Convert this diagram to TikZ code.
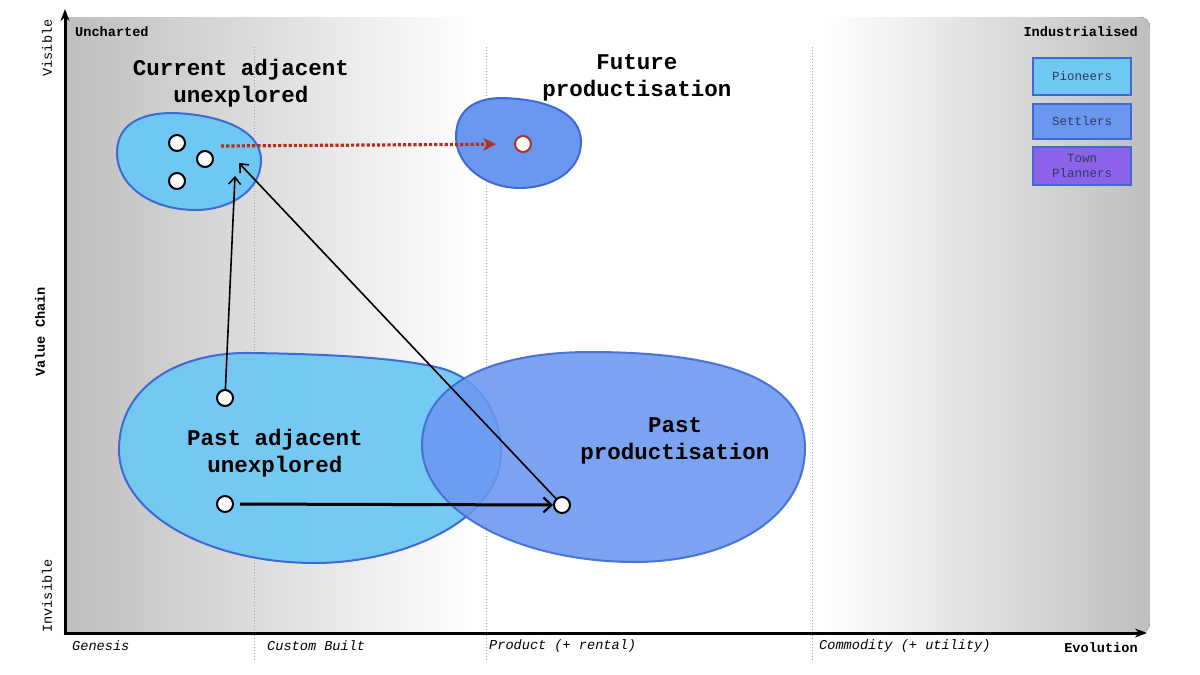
\documentclass[tikz,border=0pt]{standalone}
\usepackage{fontspec}
\setmainfont{Liberation Mono}
\usetikzlibrary{arrows.meta}
\definecolor{pion}{HTML}{6FC8F3}
\definecolor{sett}{HTML}{6B97F0}
\definecolor{town}{HTML}{8D62EA}
\definecolor{edgeblue}{HTML}{3F6AD4}
\definecolor{redd}{HTML}{B3301F}
\definecolor{bggray}{HTML}{BEBEBE}
\definecolor{legtext}{HTML}{2B3D5E}
\begin{document}
\begin{tikzpicture}[x=1pt,y=-1pt,
  small/.style={font=\fontsize{13.6}{16}\selectfont, inner sep=0pt},
  big/.style={font=\fontsize{22.5}{27}\selectfont\bfseries, align=center, inner sep=0pt},
  dot/.style={circle, draw=black, fill=white, line width=2pt, minimum size=16pt, inner sep=0pt},
  blob/.style={draw=edgeblue, line width=2pt},
  legbox/.style={draw=edgeblue, line width=2pt, minimum width=98pt, text=legtext, align=center,
     font=\fontsize{12.5}{15}\selectfont},
  conn/.style={line width=1.6pt, -{Straight Barb[length=7pt,width=12pt,line width=1.6pt]}},
  stagesep/.style={gray!70, dotted, line width=1pt}
]
\useasboundingbox (0,0) rectangle (1200,675);
% background panel
\begin{scope}
\clip (65,633) -- (65,17) -- (1140,17) arc[start angle=-90, end angle=0, radius=10]
  -- (1150,623) arc[start angle=0, end angle=90, radius=10] -- cycle;
\fill[left color=bggray, right color=white] (64,0) rectangle (475,675);
\fill[white] (474,0) rectangle (826,675);
\fill[left color=white, right color=bggray] (825,0) rectangle (1151,675);
\end{scope}
% stage separators
\draw[stagesep] (254,47) -- (254,662);
\draw[stagesep] (486,47) -- (486,662);
\draw[stagesep] (812,47) -- (812,662);
% axes
\draw[line width=3pt, -{Stealth[length=12pt,width=9pt]}] (65,634.5) -- (65,9);
\draw[line width=3pt, -{Stealth[length=12pt,width=9pt]}] (63.5,633) -- (1147,633);
% axis labels
\node[small, font=\fontsize{13.6}{16}\selectfont\bfseries, anchor=west] (unch) at (75,32) {Uncharted};
\node[small, font=\fontsize{13.6}{16}\selectfont\bfseries, anchor=east] (indu) at (1138,32) {Industrialised};
\node[small, rotate=90] (vis) at (47,48) {Visible};
\node[small, rotate=90] (invis) at (47,596) {Invisible};
\node[small, font=\fontsize{13.6}{16}\selectfont\bfseries, rotate=90] (vc) at (40,332) {Value Chain};
\node[small, font=\fontsize{13.6}{16}\selectfont\itshape, anchor=west] (gen) at (72,646) {Genesis};
\node[small, font=\fontsize{13.6}{16}\selectfont\itshape, anchor=west] (cust) at (267,646) {Custom Built};
\node[small, font=\fontsize{13.6}{16}\selectfont\itshape, anchor=west] (prod) at (489,646) {Product (+ rental)};
\node[small, font=\fontsize{13.6}{16}\selectfont\itshape, anchor=west] (comm) at (819,646) {Commodity (+ utility)};
\node[small, font=\fontsize{13.6}{16}\selectfont\bfseries] (evo) at (1101,648) {Evolution};
% legend
\node[legbox, fill=pion, minimum height=37pt] (lp) at (1082,76.5) {Pioneers};
\node[legbox, fill=sett, minimum height=35pt] (ls) at (1082,121) {Settlers};
\node[legbox, fill=town, minimum height=38pt] (lt) at (1082,166) {Town\\Planners};
% blobs
\draw[blob, fill=pion] (117,153) .. controls (117,125) and (140,113) .. (172,113)
  .. controls (215,114) and (261,128) .. (261,160)
  .. controls (261,192) and (228,210) .. (196,210)
  .. controls (150,210) and (117,185) .. (117,153) -- cycle;
\draw[blob, fill=sett] (456,137) .. controls (456,110) and (475,98) .. (502,98)
  .. controls (545,99) and (581,112) .. (581,142)
  .. controls (581,172) and (550,188) .. (520,188)
  .. controls (485,188) and (456,165) .. (456,137) -- cycle;
\draw[blob, fill=pion, fill opacity=0.95] (119,450) .. controls (119,385) and (180,352) .. (250,353)
  .. controls (330,354) and (400,358) .. (440,368)
  .. controls (480,378) and (501,415) .. (501,452)
  .. controls (501,522) and (400,563) .. (315,563)
  .. controls (205,563) and (119,512) .. (119,450) -- cycle;
\draw[blob, fill=sett, fill opacity=0.88, draw opacity=0.9] (422,445) .. controls (422,385) and (490,352) .. (590,352)
  .. controls (725,352) and (805,380) .. (805,448)
  .. controls (805,520) and (725,562) .. (635,562)
  .. controls (520,562) and (422,512) .. (422,445) -- cycle;
% labels
\node[big] (tcur) at (241,83) {Current adjacent\\unexplored};
\node[big] (tfut) at (637,78) {Future\\productisation};
\node[big] (tpast) at (275,453) {Past adjacent\\unexplored};
\node[big] (tprod) at (675,441) {Past\\productisation};
% dots
\node[dot] (c1) at (177,143) {};
\node[dot] (c2) at (205,159) {};
\node[dot] (c3) at (177,181) {};
\node[dot] (pa1) at (225,398) {};
\node[dot] (pa2) at (225,504) {};
\node[dot] (pp) at (562,505) {};
\node[dot, draw=redd] (fd) at (523,144) {};
% connectors
\coordinate (t1) at (235,176);
\coordinate (t2) at (239,163);
\coordinate (r0) at (221,146);
\draw[conn] (pa1) -- (t1);
\draw[conn] (pp) -- (t2);
\draw[line width=3pt, -{Straight Barb[length=8pt,width=15pt,line width=2.2pt]}, shorten <=6pt] (pa2) -- (pp);
\draw[redd, line width=3.2pt, dotted, shorten >=18pt, -{Stealth[length=13pt,width=13pt,inset=4pt,line width=0pt]}] (r0) -- (fd);
\end{tikzpicture}
\end{document}
